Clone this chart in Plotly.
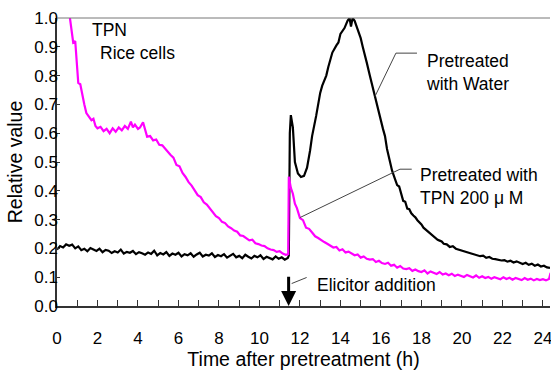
import plotly.graph_objects as go

# ---------------- data ----------------
water_t_pre = [0.0, 0.15, 0.3, 0.45, 0.6, 0.75, 0.9, 1.05, 1.2, 1.35, 1.5, 1.65, 1.8, 1.95,
               2.1, 2.25, 2.4, 2.55, 2.7, 2.85, 3.0, 3.15, 3.3, 3.45, 3.6, 3.75, 3.9, 4.05,
               4.2, 4.35, 4.5, 4.65, 4.8, 4.95, 5.1, 5.25, 5.4, 5.55, 5.7, 5.85, 6.0, 6.15,
               6.3, 6.45, 6.6, 6.75, 6.9, 7.05, 7.2, 7.35, 7.5, 7.65, 7.8, 7.95, 8.1, 8.25,
               8.4, 8.55, 8.7, 8.85, 9.0, 9.15, 9.3, 9.45, 9.6, 9.75, 9.9, 10.05, 10.2, 10.35,
               10.5, 10.65, 10.8, 10.95, 11.1, 11.25, 11.4]
water_v_pre = [0.196, 0.208, 0.203, 0.214, 0.209, 0.213, 0.200, 0.207, 0.194, 0.199, 0.190,
               0.201, 0.196, 0.191, 0.199, 0.187, 0.195, 0.192, 0.184, 0.190, 0.186, 0.196,
               0.182, 0.188, 0.185, 0.191, 0.180, 0.187, 0.183, 0.178, 0.186, 0.181, 0.192,
               0.176, 0.184, 0.179, 0.187, 0.174, 0.182, 0.178, 0.185, 0.172, 0.180, 0.176,
               0.183, 0.171, 0.179, 0.185, 0.172, 0.178, 0.175, 0.183, 0.170, 0.177, 0.173,
               0.180, 0.168, 0.176, 0.181, 0.169, 0.174, 0.166, 0.178, 0.171, 0.165, 0.174,
               0.169, 0.176, 0.163, 0.171, 0.167, 0.162, 0.172, 0.164, 0.169, 0.161, 0.167]
water_t_post = [11.45, 11.5, 11.55, 11.65, 11.75, 11.9, 12.05, 12.2, 12.35, 12.5, 12.6, 12.8,
                13.0, 13.1, 13.3, 13.4, 13.5, 13.6, 13.8, 13.9, 14.0, 14.2, 14.35, 14.45, 14.52,
                14.6, 14.7, 14.8, 14.9, 15.0, 15.1, 15.2, 15.3, 15.45, 15.6, 15.7, 15.85, 15.95,
                16.1, 16.2, 16.3, 16.45, 16.55, 16.7, 16.8, 16.9, 17.0, 17.1, 17.2, 17.3, 17.4,
                17.5, 17.6, 17.7, 17.8, 17.9, 18.0, 18.1, 18.2, 18.3, 18.4, 18.5, 18.6, 18.7,
                18.8, 18.9, 19.0, 19.1, 19.25, 19.4, 19.55, 19.7, 19.85, 20.0, 20.15, 20.3,
                20.45, 20.6, 20.75, 20.9, 21.05, 21.2, 21.35, 21.5, 21.65, 21.8, 21.95, 22.1,
                22.25, 22.4, 22.55, 22.7, 22.85, 23.0, 23.15, 23.3, 23.45, 23.6, 23.75, 23.9,
                24.05, 24.2, 24.35]
water_v_post = [0.175, 0.600, 0.663, 0.620, 0.500, 0.460, 0.448, 0.452, 0.480, 0.540, 0.590,
                0.660, 0.740, 0.765, 0.800, 0.830, 0.855, 0.880, 0.905, 0.915, 0.945, 0.965,
                0.990, 1.000, 0.970, 1.000, 0.990, 0.970, 0.955, 0.930, 0.900, 0.875, 0.845,
                0.800, 0.755, 0.725, 0.685, 0.660, 0.615, 0.590, 0.545, 0.500, 0.470, 0.440,
                0.420, 0.415, 0.385, 0.365, 0.362, 0.338, 0.336, 0.322, 0.314, 0.308, 0.298,
                0.292, 0.283, 0.272, 0.266, 0.260, 0.253, 0.248, 0.241, 0.238, 0.230, 0.227,
                0.224, 0.216, 0.214, 0.205, 0.208, 0.199, 0.196, 0.192, 0.190, 0.186, 0.182,
                0.181, 0.176, 0.173, 0.175, 0.167, 0.170, 0.164, 0.163, 0.161, 0.158, 0.159,
                0.154, 0.157, 0.151, 0.155, 0.150, 0.146, 0.150, 0.143, 0.147, 0.140, 0.144,
                0.137, 0.140, 0.134, 0.132]

tpn_t = [0.6, 0.7, 0.8, 0.9, 1.0, 1.05, 1.15, 1.25, 1.35, 1.45, 1.55, 1.7, 1.8, 1.9, 2.0,
         2.15, 2.3, 2.45, 2.6, 2.75, 2.9, 3.05, 3.2, 3.35, 3.5, 3.65, 3.75, 3.85, 4.0, 4.1,
         4.25, 4.35, 4.45, 4.6, 4.75, 4.9, 5.05, 5.2, 5.35, 5.5, 5.6, 5.75, 5.9, 6.05, 6.2,
         6.35, 6.5, 6.65, 6.8, 6.95, 7.1, 7.25, 7.4, 7.55, 7.7, 7.85, 8.0, 8.15, 8.3, 8.45,
         8.6, 8.75, 8.9, 9.05, 9.2, 9.35, 9.5, 9.65, 9.8, 9.95, 10.1, 10.25, 10.4, 10.55,
         10.7, 10.85, 11.0, 11.15, 11.3, 11.42, 11.45, 11.55, 11.65, 11.75, 11.85, 12.0,
         12.15, 12.3, 12.45, 12.6, 12.75, 12.9, 13.05, 13.2, 13.35, 13.5, 13.65, 13.8, 13.95,
         14.1, 14.25, 14.4, 14.55, 14.7, 14.85, 15.0, 15.15, 15.3, 15.45, 15.6, 15.75, 15.9,
         16.05, 16.2, 16.35, 16.5, 16.65, 16.8, 16.95, 17.1, 17.25, 17.4, 17.55, 17.7, 17.85,
         18.0, 18.15, 18.3, 18.45, 18.6, 18.75, 18.9, 19.05, 19.2, 19.35, 19.5, 19.65, 19.8,
         19.95, 20.1, 20.25, 20.4, 20.55, 20.7, 20.85, 21.0, 21.15, 21.3, 21.45, 21.6, 21.75,
         21.9, 22.05, 22.2, 22.35, 22.5, 22.65, 22.8, 22.95, 23.1, 23.25, 23.4, 23.55, 23.7,
         23.85, 24.0, 24.15, 24.3, 24.38]
tpn_v = [1.02, 0.97, 0.915, 0.92, 0.84, 0.775, 0.77, 0.73, 0.70, 0.67, 0.66, 0.645, 0.65,
         0.625, 0.617, 0.622, 0.607, 0.615, 0.600, 0.617, 0.605, 0.620, 0.610, 0.625, 0.615,
         0.640, 0.620, 0.630, 0.615, 0.620, 0.638, 0.610, 0.588, 0.590, 0.575, 0.578, 0.560,
         0.558, 0.545, 0.532, 0.525, 0.515, 0.490, 0.485, 0.462, 0.448, 0.430, 0.418, 0.400,
         0.385, 0.378, 0.360, 0.352, 0.338, 0.325, 0.312, 0.305, 0.292, 0.288, 0.276, 0.270,
         0.262, 0.258, 0.245, 0.243, 0.236, 0.228, 0.230, 0.218, 0.215, 0.210, 0.208, 0.200,
         0.196, 0.194, 0.188, 0.190, 0.182, 0.178, 0.180, 0.449, 0.410, 0.390, 0.355, 0.340,
         0.305, 0.298, 0.272, 0.268, 0.255, 0.242, 0.236, 0.228, 0.222, 0.216, 0.210, 0.203,
         0.205, 0.193, 0.197, 0.186, 0.189, 0.181, 0.176, 0.179, 0.168, 0.172, 0.164, 0.161,
         0.163, 0.153, 0.157, 0.149, 0.146, 0.150, 0.140, 0.143, 0.133, 0.139, 0.130, 0.128,
         0.131, 0.122, 0.127, 0.121, 0.118, 0.124, 0.113, 0.120, 0.116, 0.111, 0.118, 0.109,
         0.113, 0.107, 0.112, 0.104, 0.109, 0.106, 0.101, 0.108, 0.102, 0.099, 0.106, 0.098,
         0.103, 0.097, 0.101, 0.095, 0.100, 0.097, 0.093, 0.100, 0.094, 0.098, 0.091, 0.097,
         0.093, 0.090, 0.097, 0.091, 0.095, 0.089, 0.094, 0.090, 0.093, 0.089, 0.094, 0.115]

elicitor_time = 11.44
x_range = [0, 24.35]
y_range = [0, 1.0]
x_tick_vals = [0, 2, 4, 6, 8, 10, 12, 14, 16, 18, 20, 22, 24]
y_tick_vals = [0.0, 0.1, 0.2, 0.3, 0.4, 0.5, 0.6, 0.7, 0.8, 0.9, 1.0]

FONT = "Liberation Sans, Arial, sans-serif"

fig = go.Figure()
fig.add_trace(go.Scatter(x=water_t_pre + water_t_post, y=water_v_pre + water_v_post,
                         mode="lines", line=dict(color="black", width=2.2),
                         name="Pretreated with Water"))
fig.add_trace(go.Scatter(x=tpn_t, y=tpn_v, mode="lines",
                         line=dict(color="#ff00ff", width=2.2),
                         name="Pretreated with TPN 200 μM"))

# leader lines
leader = dict(color="#444444", width=1)
fig.add_shape(type="path", xref="x", yref="y",
              path="M 17.78 0.878 L 16.74 0.878 L 15.70 0.727", line=leader)
fig.add_shape(type="path", xref="x", yref="y",
              path="M 17.52 0.475 L 16.94 0.475 L 12.0 0.307", line=leader)
fig.add_shape(type="line", xref="x", yref="y", x0=11.59, y0=0.078, x1=12.33, y1=0.099,
              line=leader)
# top frame line
fig.add_shape(type="line", xref="paper", yref="paper", x0=0, x1=1, y0=1, y1=1,
              line=dict(color="#777777", width=1))

txt = dict(family=FONT, size=17.5, color="black")
fig.add_annotation(x=1.63, y=0.96, text="TPN", showarrow=False, xanchor="left",
                   yanchor="middle", font=txt)
fig.add_annotation(x=2.02, y=0.879, text="Rice cells", showarrow=False, xanchor="left",
                   yanchor="middle", font=txt)
fig.add_annotation(x=18.15, y=0.812, text="Pretreated<br>with Water", showarrow=False,
                   xanchor="left", yanchor="middle", align="left", font=txt)
fig.add_annotation(x=17.85, y=0.415, text="Pretreated with<br>TPN 200 μ M", showarrow=False,
                   xanchor="left", yanchor="middle", align="left", font=txt)
fig.add_annotation(x=12.72, y=0.072, text="Elicitor addition", showarrow=False,
                   xanchor="left", yanchor="middle", font=txt)
# elicitor arrow
fig.add_annotation(x=elicitor_time, y=0.0, ax=elicitor_time, ay=0.107, axref="x", ayref="y",
                   xref="x", yref="y", text="", showarrow=True, arrowhead=2, arrowsize=1,
                   arrowwidth=3, arrowcolor="black", standoff=0)

fig.update_layout(
    width=551, height=370,
    margin=dict(l=57, r=1, t=18, b=64, autoexpand=False),
    paper_bgcolor="white", plot_bgcolor="white",
    showlegend=False,
    font=dict(family=FONT, size=17, color="black"),
    xaxis=dict(range=x_range, tickvals=x_tick_vals, ticks="inside", ticklen=6,
               tickcolor="#333", showline=True, linecolor="#333", linewidth=1.5,
               showgrid=False, zeroline=False, ticklabelstandoff=16, automargin=False,
               ticklabeloverflow="allow",
               minor=dict(dtick=1, ticks="inside", ticklen=6, tickcolor="#333", showgrid=False),
               title=dict(text="Time after pretreatment (h)", standoff=22,
                          font=dict(family=FONT, size=19.5))),
    yaxis=dict(range=y_range, tickvals=y_tick_vals, tickformat=".1f", ticks="inside",
               ticklen=3, tickcolor="#333", showline=True, linecolor="#333", linewidth=1.5,
               showgrid=False, zeroline=False, ticklabelstandoff=-6, automargin=False,
               title=dict(text="Relative value", standoff=6,
                          font=dict(family=FONT, size=19.5))),
)

fig.write_html("out.html")
